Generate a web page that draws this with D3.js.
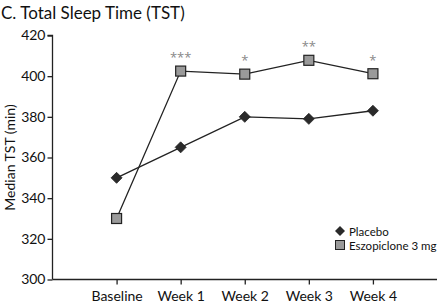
<!DOCTYPE html>
<html lang="en">
<head>
    <meta charset="UTF-8">
    <title>Total Sleep Time</title>
    <script src="https://d3js.org/d3.v7.min.js"></script>
    <style>
        body {
            margin: 0;
            padding: 0;
            background: #fff;
        }
        svg {
            font-family: Lato, "Open Sans", Arial, sans-serif;
        }
    </style>
</head>
<body>
    <svg id="chart"></svg>

    <script>
        // Data
        const weeks = ["Baseline", "Week 1", "Week 2", "Week 3", "Week 4"];
        const placebo = [350, 365, 380, 379, 383];
        const eszopiclone = [330, 402.5, 401, 407.8, 401.2];
        const stars = ["", "***", "*", "**", "*"];
        const yTicks = [300, 320, 340, 360, 380, 400, 420];

        const width = 438, height = 306;
        const svg = d3.select("#chart").attr("width", width).attr("height", height);

        // x runs one step left of Baseline to one step right of Week 4 (axis goes to edge)
        const x = d3.scaleLinear().domain([-1, 5]).range([52.5, 437]);
        const y = d3.scaleLinear().domain([300, 420]).range([279.5, 35.5]);

        // Title
        svg.append("text")
            .attr("x", 1)
            .attr("y", 19)
            .attr("font-size", 17)
            .attr("fill", "#111")
            .text("C. Total Sleep Time (TST)");

        // Y axis
        const yAxis = svg.append("g")
            .attr("transform", "translate(52.5,0)")
            .call(d3.axisLeft(y).tickValues(yTicks).tickSize(5).tickPadding(2));
        yAxis.selectAll("text").attr("font-size", 14).attr("fill", "#111").attr("font-family", "Lato");
        yAxis.select(".domain").attr("d", `M-5,${y(420)}H0V${y(300)}`);

        // X axis
        const xAxis = svg.append("g")
            .attr("transform", `translate(0,${y(300)})`)
            .call(d3.axisBottom(x).tickValues(d3.range(weeks.length))
                .tickFormat(i => weeks[i]).tickSize(5).tickPadding(7));
        xAxis.selectAll("text").attr("font-size", 14).attr("fill", "#111").attr("font-family", "Lato");
        xAxis.select(".domain").attr("d", `M${x(-1)},0H${x(5)}`);
        svg.selectAll(".domain, .tick line").attr("stroke", "#222").attr("stroke-width", 1.3);

        // Y axis label
        svg.append("text")
            .attr("transform", `translate(15,${(y(300) + y(420)) / 2}) rotate(-90)`)
            .attr("text-anchor", "middle")
            .attr("font-size", 14)
            .attr("fill", "#111")
            .text("Median TST (min)");

        const line = d3.line().x((d, i) => x(i)).y(d => y(d));

        // Lines
        svg.append("path")
            .datum(placebo)
            .attr("d", line)
            .attr("fill", "none")
            .attr("stroke", "#222")
            .attr("stroke-width", 1.3);

        svg.append("path")
            .datum(eszopiclone)
            .attr("d", line)
            .attr("fill", "none")
            .attr("stroke", "#222")
            .attr("stroke-width", 1.3);

        const diamond = "M0,-5.5L5.5,0L0,5.5L-5.5,0Z";

        // Placebo diamonds
        svg.selectAll(".pl")
            .data(placebo)
            .join("path")
            .attr("class", "pl")
            .attr("d", diamond)
            .attr("transform", (d, i) => `translate(${x(i)},${y(d)})`)
            .attr("fill", "#2a2a2a")
            .attr("stroke", "#222")
            .attr("stroke-width", 0.8);

        // Eszopiclone squares
        svg.selectAll(".es")
            .data(eszopiclone)
            .join("rect")
            .attr("class", "es")
            .attr("x", (d, i) => x(i) - 5)
            .attr("y", d => y(d) - 5)
            .attr("width", 10)
            .attr("height", 10)
            .attr("fill", "#9a9a9a")
            .attr("stroke", "#222")
            .attr("stroke-width", 1.2);

        // Significance stars
        svg.selectAll(".star")
            .data(eszopiclone)
            .join("text")
            .attr("class", "star")
            .attr("x", (d, i) => x(i))
            .attr("y", d => y(d) - 9)
            .attr("text-anchor", "middle")
            .attr("font-family", "Open Sans")
            .attr("font-size", 13)
            .attr("fill", "#888")
            .text((d, i) => stars[i]);

        // Legend
        const legend = svg.append("g").attr("transform", "translate(340,231)");
        legend.append("path")
            .attr("d", "M0,-5L5,0L0,5L-5,0Z")
            .attr("fill", "#2a2a2a");
        legend.append("text")
            .attr("x", 9)
            .attr("y", 4.5)
            .attr("font-size", 11.5)
            .attr("fill", "#111")
            .text("Placebo");
        legend.append("rect")
            .attr("x", -4.5)
            .attr("y", 9.5)
            .attr("width", 9)
            .attr("height", 9)
            .attr("fill", "#9a9a9a")
            .attr("stroke", "#222")
            .attr("stroke-width", 1);
        legend.append("text")
            .attr("x", 9)
            .attr("y", 18.5)
            .attr("font-size", 11.5)
            .attr("fill", "#111")
            .text("Eszopiclone 3 mg");
    </script>
</body>
</html>
